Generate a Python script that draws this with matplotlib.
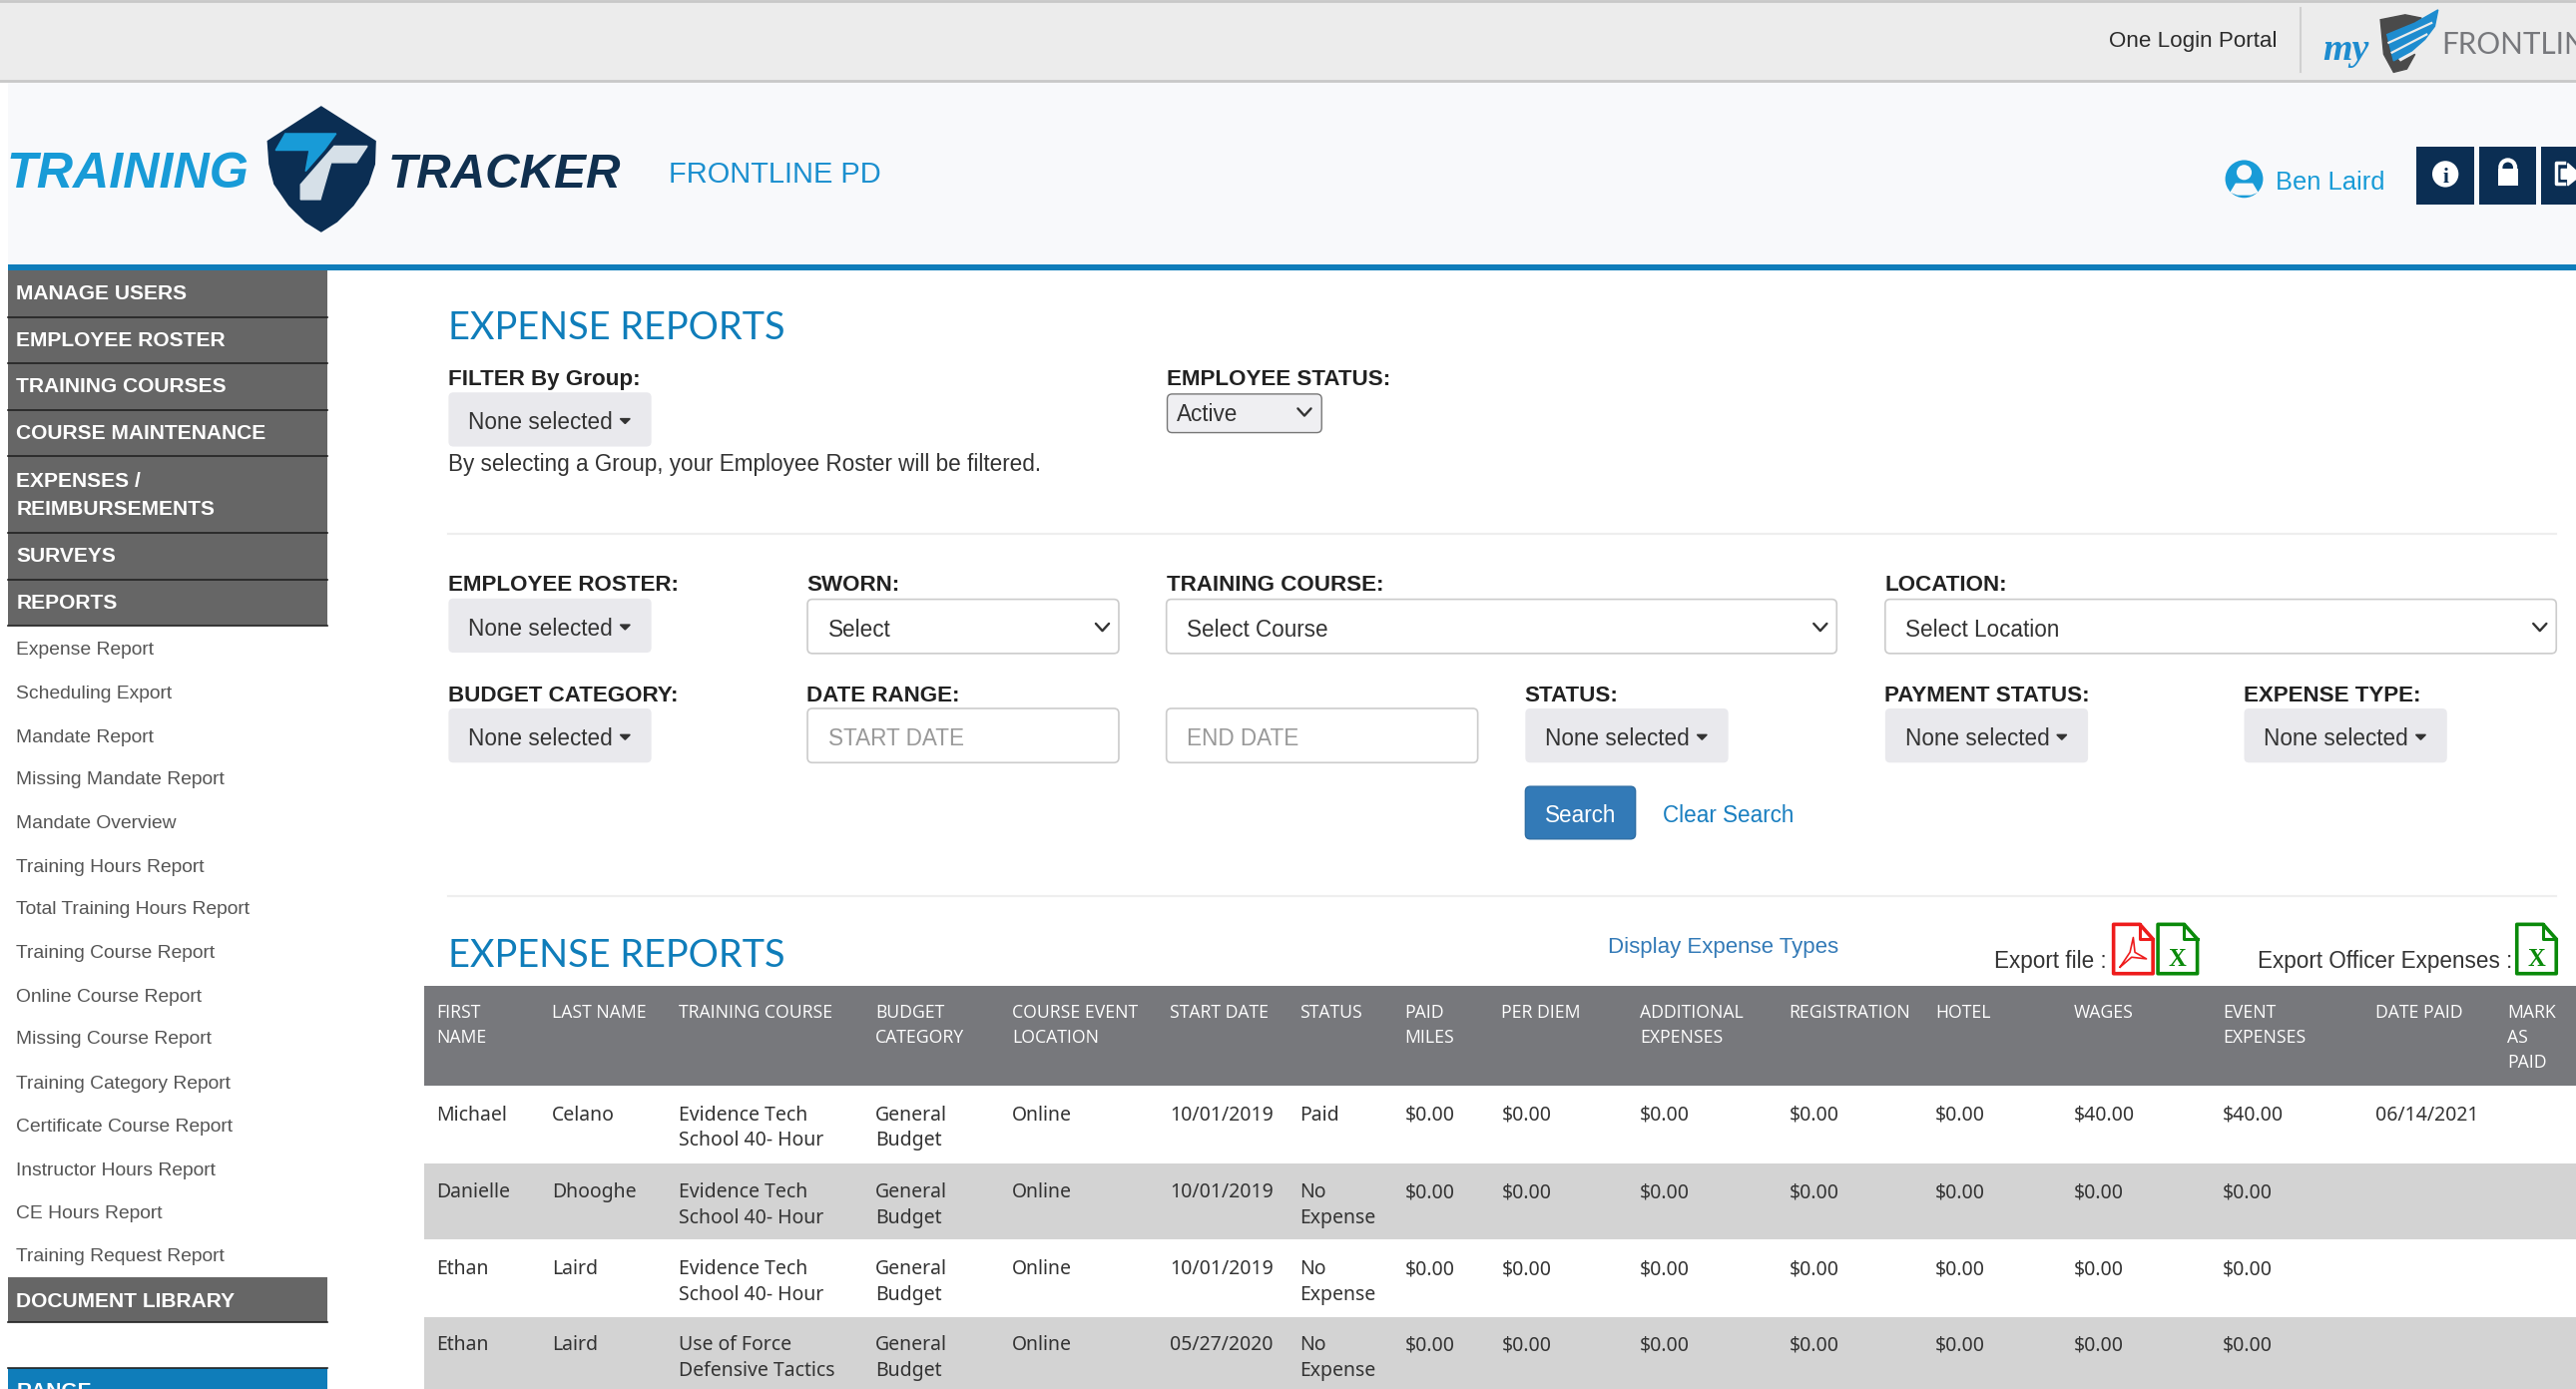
import matplotlib
matplotlib.use('Agg')
import matplotlib.pyplot as plt
from matplotlib.patches import Circle, FancyBboxPatch, Polygon, Rectangle

# sidebar text
menu_top = ['MANAGE USERS', 'EMPLOYEE ROSTER', 'TRAINING COURSES', 'COURSE MAINTENANCE',
            'EXPENSES /\nREIMBURSEMENTS', 'SURVEYS', 'REPORTS']
report_links = ['Expense Report', 'Scheduling Export', 'Mandate Report', 'Missing Mandate Report',
                'Mandate Overview', 'Training Hours Report', 'Total Training Hours Report',
                'Training Course Report', 'Online Course Report', 'Missing Course Report',
                'Training Category Report', 'Certificate Course Report', 'Instructor Hours Report',
                'CE Hours Report', 'Training Request Report']

# table text
table_headers = ['FIRST\nNAME', 'LAST NAME', 'TRAINING COURSE', 'BUDGET\nCATEGORY', 'COURSE EVENT\nLOCATION',
                 'START DATE', 'STATUS', 'PAID\nMILES', 'PER DIEM', 'ADDITIONAL\nEXPENSES', 'REGISTRATION',
                 'HOTEL', 'WAGES', 'EVENT\nEXPENSES', 'DATE PAID', 'MARK\nAS\nPAID']
first_names = ['Michael', 'Danielle', 'Ethan', 'Ethan']
last_names = ['Celano', 'Dhooghe', 'Laird', 'Laird']
courses = ['Evidence Tech\nSchool 40- Hour', 'Evidence Tech\nSchool 40- Hour',
           'Evidence Tech\nSchool 40- Hour', 'Use of Force\nDefensive Tactics']
budgets = ['General\nBudget'] * 4
locations = ['Online'] * 4
start_dates = ['10/01/2019', '10/01/2019', '10/01/2019', '05/27/2020']
statuses = ['Paid', 'No\nExpense', 'No\nExpense', 'No\nExpense']
paid_miles = ['$0.00'] * 4
per_diem = ['$0.00'] * 4
additional = ['$0.00'] * 4
registration = ['$0.00'] * 4
hotel = ['$0.00'] * 4
wages = ['$40.00', '$0.00', '$0.00', '$0.00']
event_expenses = ['$40.00', '$0.00', '$0.00', '$0.00']
date_paid = ['06/14/2021', '', '', '']

W, H = 1568, 846
SCALE = 2581 / 1568
BLUE = '#0f7dba'
LIGHT_BLUE = '#189bd7'
NAVY = '#0b2e53'
DARK = '#333333'
BODY = 13.7
LABEL = 13.6
MENU = 12.8

fig = plt.figure(figsize=(25.81, 13.92), dpi=100)
ax = fig.add_axes([0, 0, 1, 1])
ax.set_xlim(0, W)
ax.set_ylim(H, 0)
ax.axis('off')


def txt(x, y, s, size, color=DARK, weight='normal', family='Liberation Sans', **kw):
    kw.setdefault('va', 'center_baseline')
    return ax.text(x, y, s, fontsize=size * SCALE * 0.72, color=color, fontweight=weight,
                   family=family, **kw)


def rect(x0, y0, x1, y1, color, **kw):
    ax.add_patch(Rectangle((x0, y0), x1 - x0, y1 - y0, facecolor=color, edgecolor='none', **kw))


def dropdown_button(x, y, label='None selected'):
    ax.add_patch(FancyBboxPatch((x, y), 123.5, 33, boxstyle='round,pad=0,rounding_size=3',
                                facecolor='#e9e9ed', edgecolor='none'))
    txt(x + 12, y + 17, label, BODY)
    ax.add_patch(Polygon([(x + 104.5, y + 16), (x + 110.5, y + 16), (x + 107.5, y + 19)], color=DARK))


def chevron(x, y, size=4):
    ax.plot([x - size, x, x + size], [y - size * 0.55, y + size * 0.55, y - size * 0.55],
            color='#333333', lw=1.7, solid_capstyle='round')


def input_box(x0, x1, y, label, color=DARK, arrow=True):
    ax.add_patch(FancyBboxPatch((x0, y), x1 - x0, 33, boxstyle='round,pad=0,rounding_size=3',
                                facecolor='white', edgecolor='#cccccc', lw=1.2))
    txt(x0 + 12.5, y + 17, label, BODY, color=color)
    if arrow:
        chevron(x1 - 10, y + 17)


def file_icon(x, y, color, letter=None):
    w, h = 24, 30
    ax.add_patch(Polygon([(x, y), (x + w - 8, y), (x + w, y + 9), (x + w, y + h), (x, y + h)],
                         closed=True, facecolor='white', edgecolor=color, lw=2.6, joinstyle='round'))
    ax.plot([x + w - 8, x + w - 8, x + w], [y, y + 9, y + 9], color=color, lw=2.2)
    if letter:
        txt(x + w / 2, y + 20, letter, 15, color=color, weight='bold', family='Liberation Serif', ha='center')
    else:
        ax.plot([x + 4, x + 10, x + 12, x + 13, x + 20, x + 11, x + 4],
                [y + 26, y + 17, y + 8, y + 17, y + 21, y + 20, y + 26], color=color, lw=1.2)


# top bar
rect(0, 0, W, 49.5, '#ececec')
ax.plot([0, W], [0.5, 0.5], color='#c8c8c8', lw=2)
ax.plot([0, W], [49.5, 49.5], color='#c8c8c8', lw=2)
txt(1386, 24, 'One Login Portal', 13.6, ha='right', color='#2b2b2b')
ax.plot([1400.5, 1400.5], [5, 44], color='#d0d0d0', lw=1.5)
txt(1414, 28, 'my', 23, color='#1e8ccf', weight='bold', style='italic', family='Liberation Serif')
ax.add_patch(Polygon([(1449, 12), (1464, 9), (1474, 11), (1462, 19), (1456, 22), (1457, 33), (1461, 38),
                      (1470, 33), (1465, 42), (1457, 44), (1451, 33)], color='#4a4a4a'))
ax.add_patch(Polygon([(1484, 6), (1482, 16), (1476, 24), (1468, 31), (1457, 37), (1453, 21), (1470, 14)],
                     color='#1e8ccf'))
ax.plot([1454, 1480], [26, 14], color='#ececec', lw=1.6)
ax.plot([1456, 1477], [32, 21], color='#ececec', lw=1.6)
txt(1486, 26, 'FRONTLINE', 18, color='#77787c', family='Lato')

# header band
rect(5, 50, W, 161, '#f8f9fb')
rect(5, 161, W, 165, BLUE)
txt(4, 103.5, 'TRAINING', 30.5, color=LIGHT_BLUE, weight='bold', style='italic')
txt(236, 103.5, 'TRACKER', 29, color='#10304f', weight='bold', style='italic')
ax.add_patch(Polygon([(163, 86), (195.5, 65), (228.5, 86), (228, 100), (224, 112), (215, 125), (205, 135),
                      (195.5, 141), (186, 135), (176, 125), (167, 112), (164, 100)], color='#0b2e53'))
ax.add_patch(Polygon([(173.6, 81.4), (204.6, 81.4), (197.6, 91), (186, 104.3), (188.3, 91.5), (167.8, 91.5)],
                     color=LIGHT_BLUE))
ax.add_patch(Polygon([(203.4, 89), (223.6, 89), (217, 99), (201.5, 99), (195, 121.5), (183, 121.5), (183, 112.4)],
                     color='#d6e0e8'))
txt(407, 104.5, 'FRONTLINE PD', 17.6, color='#1b8fcf')

# user area
ax.add_patch(Circle((1366, 109), 11.5, facecolor=LIGHT_BLUE, edgecolor='none'))
ax.add_patch(Circle((1366, 105), 4.6, facecolor='#f8f9fb', edgecolor='none'))
ax.add_patch(Polygon([(1358, 117), (1361, 112), (1371, 112), (1374, 117), (1370, 118.5), (1362, 118.5)],
                     color='#f8f9fb'))
txt(1385, 109.5, 'Ben Laird', 15.5, color=LIGHT_BLUE)
rect(1471, 89.5, 1506, 124.5, NAVY)
rect(1509, 89.5, 1544, 124.5, NAVY)
rect(1547, 89.5, W, 124.5, NAVY)
ax.add_patch(Circle((1488.5, 106), 8, facecolor='white', edgecolor='none'))
txt(1488.5, 106.5, 'i', 13, color=NAVY, weight='bold', family='Liberation Serif', ha='center')
rect(1520.5, 103, 1532.5, 113, 'white')
ax.add_patch(Circle((1526.5, 102), 4.5, facecolor='none', edgecolor='white', lw=3))
ax.plot([1561, 1556, 1556, 1561], [99, 99, 112, 112], color='white', lw=2.5)
ax.add_patch(Polygon([(1559, 103), (1563, 103), (1563, 99.5), (W, 104), (W, 109), (1563, 113), (1563, 109), (1559, 109)],
                     color='white'))

# sidebar menu
menu_edges = [165, 193, 221.5, 249.5, 278, 324.5, 353, 381]
for i, label in enumerate(menu_top):
    rect(5, menu_edges[i], 199, menu_edges[i + 1], '#666666')
    ax.plot([5, 199], [menu_edges[i + 1], menu_edges[i + 1]], color='#222222', lw=1.2)
    txt(10, (menu_edges[i] + menu_edges[i + 1]) / 2 + 0.2, label, MENU, color='white', weight='bold',
        va='center', linespacing=1.6)
link_y = [395, 421.5, 448, 474, 500.5, 527, 553, 579.5, 606, 632, 659, 685, 712, 738, 764]
for y, label in zip(link_y, report_links):
    txt(10, y, label, 11.7, color='#555555')
rect(5, 778, 199, 805, '#666666')
ax.plot([5, 199], [805, 805], color='#222222', lw=1.2)
txt(10, 791.5, 'DOCUMENT LIBRARY', MENU, color='white', weight='bold')
rect(5, 833.5, 199, H, BLUE)
ax.plot([5, 199], [833.5, 833.5], color='#222222', lw=1.2)
txt(10, 846.5, 'RANGE', MENU, color='white', weight='bold', clip_on=True)

# filter form
txt(273, 198, 'EXPENSE REPORTS', 23, color=BLUE, family='Lato')
txt(273, 230, 'FILTER By Group:', LABEL, weight='bold', color='#222222')
dropdown_button(273, 239)
txt(273, 281.5, 'By selecting a Group, your Employee Roster will be filtered.', BODY)
txt(710, 230, 'EMPLOYEE STATUS:', LABEL, weight='bold', color='#222222')
ax.add_patch(FancyBboxPatch((710.5, 240), 94, 23.5, boxstyle='round,pad=0,rounding_size=3',
                            facecolor='#efeff2', edgecolor='#777777', lw=1))
txt(716, 251, 'Active', BODY)
chevron(794, 251)
ax.plot([273, 1556], [325, 325], color='#eeeeee', lw=1.6)

txt(273, 355, 'EMPLOYEE ROSTER:', LABEL, weight='bold', color='#222222')
dropdown_button(273, 364.5)
txt(491, 355, 'SWORN:', LABEL, weight='bold', color='#222222')
input_box(491.5, 681, 365, 'Select')
txt(710, 355, 'TRAINING COURSE:', LABEL, weight='bold', color='#222222')
input_box(710, 1118, 365, 'Select Course')
txt(1147, 355, 'LOCATION:', LABEL, weight='bold', color='#222222')
input_box(1147.5, 1556, 365, 'Select Location')

txt(273, 422.5, 'BUDGET CATEGORY:', LABEL, weight='bold', color='#222222')
dropdown_button(273, 431.5)
txt(491, 422.5, 'DATE RANGE:', LABEL, weight='bold', color='#222222')
input_box(491.5, 681, 431.5, 'START DATE', color='#999999', arrow=False)
input_box(710, 899.5, 431.5, 'END DATE', color='#999999', arrow=False)
txt(928, 422.5, 'STATUS:', LABEL, weight='bold', color='#222222')
dropdown_button(928.5, 431.5)
txt(1147, 422.5, 'PAYMENT STATUS:', LABEL, weight='bold', color='#222222')
dropdown_button(1147.5, 431.5)
txt(1366, 422.5, 'EXPENSE TYPE:', LABEL, weight='bold', color='#222222')
dropdown_button(1366, 431.5)
ax.add_patch(FancyBboxPatch((928.5, 479), 67, 32, boxstyle='round,pad=0,rounding_size=3',
                            facecolor='#337ab7', edgecolor='#2e6da4', lw=1))
txt(962, 495.5, 'Search', BODY, color='white', ha='center')
txt(1012, 495.5, 'Clear Search', BODY, color='#1a7fc0')
ax.plot([273, 1556], [545.5, 545.5], color='#eeeeee', lw=1.6)

# table title row
txt(273, 580, 'EXPENSE REPORTS', 23, color=BLUE, family='Lato')
txt(979, 575.5, 'Display Expense Types', 13.5, color='#337ab7')
txt(1214, 584, 'Export file :', BODY)
file_icon(1286.5, 563, '#ee1c1c')
file_icon(1313.5, 563, '#0a8a0a', 'X')
txt(1374, 584, 'Export Officer Expenses :', BODY)
file_icon(1532, 563, '#0a8a0a', 'X')

# table
col_x = [265.5, 336, 413, 533, 616, 712, 791, 855, 914, 998, 1089, 1178, 1262, 1353, 1446, 1526]
rect(258, 600.5, W, 661.5, '#77787c')
for x, label in zip(col_x, table_headers):
    txt(x, 611.5, label, 10.7, color='white', family='Open Sans', va='top', linespacing=1.5)

row_edges = [661.5, 708.5, 755, 802, H]
row_colors = ['white', '#d3d3d3', 'white', '#d3d3d3']
row_y = [673.2, 720.2, 767, 813.2]
columns = [first_names, last_names, courses, budgets, locations, start_dates, statuses, paid_miles,
           per_diem, additional, registration, hotel, wages, event_expenses, date_paid]
for r in range(len(first_names)):
    rect(258, row_edges[r], W, row_edges[r + 1], row_colors[r])
    for x, col in zip(col_x, columns):
        txt(x, row_y[r], col[r], 11.8, color='#333333', family='Noto Sans', va='top', linespacing=1.38)

fig.savefig('out.png', dpi=100)
